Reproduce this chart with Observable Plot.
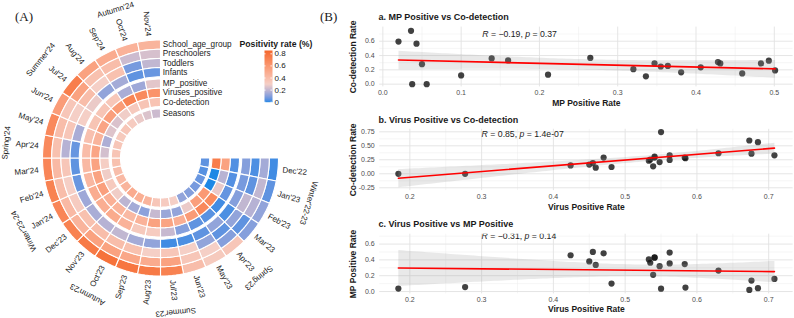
<!DOCTYPE html>
<html>
<head>
<meta charset="utf-8">
<script src="https://cdn.jsdelivr.net/npm/d3@7"></script>
<script src="https://cdn.jsdelivr.net/npm/@observablehq/plot@0.6"></script>
<style>
  body { margin: 0; background: #fff; }
  #wrap { position: relative; width: 794px; height: 318px; overflow: hidden; font-family: "Liberation Sans", Arial, sans-serif; }
  .tag { position: absolute; font-family: "Liberation Serif", "Times New Roman", serif; font-size: 13px; line-height: 13px; color: #1a1a1a; }
</style>
</head>
<body>
<div id="wrap">
  <div class="tag" style="left:15px;top:10px;">(A)</div>
  <div class="tag" style="left:320px;top:10px;">(B)</div>
</div>
<script>
// ---- monthly surveillance data, Dec 2022 – Nov 2024 ----
const months = ["Dec'22","Jan'23","Feb'23","Mar'23","Apr'23","May'23","Jun'23","Jul'23","Aug'23","Sep'23","Oct'23","Nov'23",
                "Dec'23","Jan'24","Feb'24","Mar'24","Apr'24","May'24","Jun'24","Jul'24","Aug'24","Sep'24","Oct'24","Nov'24"];
const seasons = ["Winter'22-23","Spring'23","Summer'23","Autumn'23","Winter'23-24","Spring'24","Summer'24","Autumn'24"];

// MP positivity by age group
const schoolAge    = [0.02,0.05,0.12,0.10,0.35,0.33,0.40,0.72,0.76,0.78,0.80,0.76,0.72,0.70,0.72,0.70,0.68,0.68,0.58,0.74,0.55,0.50,0.46,0.45];
const preschoolers = [0.15,0.20,0.18,0.05,0.10,0.30,0.35,0.55,0.50,0.52,0.55,0.55,0.45,0.42,0.40,0.42,0.38,0.40,0.35,0.55,0.38,0.40,0.22,0.24];
const toddlers     = [0.03,0.05,0.20,0.12,0.05,0.12,0.30,0.35,0.30,0.38,0.40,0.40,0.38,0.32,0.30,0.35,0.18,0.35,0.30,0.40,0.30,0.38,0.08,0.20];
const infants      = [0.10,0.08,0.10,0.03,0.12,0.05,0.03,0.02,0.12,0.15,0.20,0.18,0.16,0.14,0.06,0.05,0.06,0.16,0.30,0.28,0.12,0.15,0.05,0.06];
// overall rates
const mpPositive      = [0.036,0.0375,0.056,0.020,0.043,0.050,0.100,0.211,0.320,0.336,0.459,0.501,0.483,0.493,0.431,0.428,0.406,0.381,0.364,0.355,0.347,0.160,0.139,0.265];
const virusesPositive = [0.550,0.184,0.277,0.673,0.685,0.584,0.481,0.539,0.548,0.459,0.424,0.455,0.470,0.562,0.541,0.541,0.533,0.450,0.535,0.562,0.583,0.708,0.676,0.630];
const coDetection     = [0.745,0.000,0.000,0.595,0.565,0.280,0.122,0.133,0.210,0.110,0.150,0.192,0.290,0.328,0.290,0.308,0.235,0.165,0.255,0.247,0.290,0.331,0.360,0.367];
const seasonRate      = [0.05,0.04,0.06,0.08,0.10,0.12,0.30,0.32,0.35,0.45,0.48,0.50,0.45,0.42,0.40,0.38,0.36,0.35,0.33,0.35,0.32,0.28,0.25,0.22];

const trackNames = ["School_age_group","Preschoolers","Toddlers","Infants","MP_positive","Viruses_positive","Co-detection","Seasons"];
const trackValues = [schoolAge, preschoolers, toddlers, infants, mpPositive, virusesPositive, coDetection, seasonRate];

// correlation annotations
const statA = "R = \u22120.19, p = 0.37";
const statB = "R = 0.85, p = 1.4e-07";
const statC = "R = \u22120.31, p = 0.14";

// ---- shared styling ----
const FONT = "Liberation Sans, Arial, sans-serif";
const positivityColor = {type: "linear", domain: [0, 0.3, 0.855], range: ["#1e88e5", "#f5cfc6", "#f4662b"], interpolate: "lab"};
const wrap = document.getElementById("wrap");
function place(node, left, top) {
  node.style.position = "absolute";
  node.style.left = left + "px";
  node.style.top = top + "px";
  wrap.appendChild(node);
}

// ---- circular heatmap (270° sweep, clockwise from 3 o'clock) ----
const START = 90, STEP = 270 / months.length;
const trackRadii = {
  "School_age_group": [108.8, 118], "Preschoolers": [99.6, 108.8], "Toddlers": [90.4, 99.6], "Infants": [81.2, 90.4],
  "MP_positive": [69.8, 79], "Viruses_positive": [60.6, 69.8], "Co-detection": [51.4, 60.6], "Seasons": [40, 49.2]
};
const polar = (r, deg) => [r * Math.sin(deg * Math.PI / 180), -r * Math.cos(deg * Math.PI / 180)];

const cells = [];
trackNames.forEach((name, t) => {
  const [r0, r1] = trackRadii[name];
  trackValues[t].forEach((v, i) => {
    const a0 = START + i * STEP, a1 = a0 + STEP, id = name + "|" + i;
    for (let k = 0; k <= 6; k++) { const [x, y] = polar(r1, a0 + (a1 - a0) * k / 6); cells.push({id, x, y, value: v}); }
    for (let k = 6; k >= 0; k--) { const [x, y] = polar(r0, a0 + (a1 - a0) * k / 6); cells.push({id, x, y, value: v}); }
  });
});

const MONTH_R = 122.5, SEASON_R = 155;
const monthLabels = months.map((m, i) => {
  const deg = START + (i + 0.5) * STEP;
  const radial = deg - 90;
  const flip = radial > 90 && radial < 270;
  const [x, y] = polar(MONTH_R, deg);
  return {text: m, x, y, rotate: flip ? radial - 180 : radial, flip};
});
const seasonLabels = seasons.map((s, k) => {
  const deg = START + (3 * k + 1.5) * STEP;
  const [x, y] = polar(SEASON_R, deg);
  return {text: s, x, y, rotate: deg};
});
const trackLabels = trackNames.map(name => ({text: name, x: 2.3, y: -(trackRadii[name][0] + trackRadii[name][1]) / 2}));

const ring = Plot.plot({
  width: 340, height: 318,
  x: {domain: [-160, 180], range: [0, 340], axis: null},
  y: {domain: [-157.5, 160.5], range: [0, 318], axis: null},
  color: positivityColor,
  style: {fontFamily: FONT, background: "transparent", overflow: "visible"},
  marks: [
    Plot.line(cells, {x: "x", y: "y", z: "id", fill: "value", stroke: "white", strokeWidth: 1.1, curve: "linear-closed"}),
    Plot.text(monthLabels.filter(d => !d.flip), {x: "x", y: "y", text: "text", rotate: "rotate", textAnchor: "start", fontSize: 8, fill: "#1a1a1a"}),
    Plot.text(monthLabels.filter(d => d.flip), {x: "x", y: "y", text: "text", rotate: "rotate", textAnchor: "end", fontSize: 8, fill: "#1a1a1a"}),
    Plot.text(seasonLabels, {x: "x", y: "y", text: "text", rotate: "rotate", textAnchor: "middle", fontSize: 8, fill: "#1a1a1a"}),
    Plot.text(trackLabels, {x: "x", y: "y", text: "text", textAnchor: "start", fontSize: 8.2, fill: "#1a1a1a"})
  ]
});
place(ring, 0, 0);

// ---- scatter panels with linear fit and 95% band ----
const rows = months.map((m, i) => ({month: m, mp: mpPositive[i], virus: virusesPositive[i], co: coDetection[i]}));

function italicStat(svg) {
  svg.querySelectorAll("text").forEach(t => {
    const m = t.textContent.match(/^R = (.+), p = (.+)$/);
    if (!m) return;
    t.textContent = "";
    [["R", true], [" = " + m[1] + ", ", false], ["p", true], [" = " + m[2], false]].forEach(([s, it]) => {
      const ts = document.createElementNS("http://www.w3.org/2000/svg", "tspan");
      ts.textContent = s;
      if (it) ts.setAttribute("font-style", "italic");
      t.appendChild(ts);
    });
  });
}

function scatter(o) {
  const chart = Plot.plot({
    width: o.width, height: o.height,
    marginLeft: o.frame[0] - o.left, marginRight: o.left + o.width - o.frame[1],
    marginTop: o.frame[2] - o.top, marginBottom: o.top + o.height - o.frame[3],
    x: {domain: o.xDomain},
    y: {domain: o.yDomain},
    style: {fontFamily: FONT, background: "transparent", overflow: "visible"},
    marks: [
      Plot.gridX(o.xMinor, {stroke: "#ededed", strokeOpacity: 1, strokeWidth: 0.5}),
      Plot.gridY(o.yMinor, {stroke: "#ededed", strokeOpacity: 1, strokeWidth: 0.5}),
      Plot.gridX(o.xTicks, {stroke: "#e2e2e2", strokeOpacity: 1, strokeWidth: 0.9}),
      Plot.gridY(o.yTicks, {stroke: "#e2e2e2", strokeOpacity: 1, strokeWidth: 0.9}),
      Plot.axisX(o.xTicks, {tickSize: 0, tickPadding: 3, fontSize: 7, fill: "#4d4d4d", tickFormat: o.xFormat, label: null}),
      Plot.axisY(o.yTicks, {tickSize: 0, tickPadding: 5, fontSize: 7, fill: "#4d4d4d", tickFormat: o.yFormat, label: null}),
      Plot.dot(rows, {x: o.x, y: o.y, r: 3.1, fill: "#111", fillOpacity: 0.8}),
      Plot.linearRegressionY(rows, {x: o.x, y: o.y, stroke: "#ff0000", strokeWidth: 1.6, fill: "#999999", fillOpacity: 0.22}),
      Plot.text([o.stat], {x: () => o.statX, y: () => 0.7, text: d => d, textAnchor: "start", lineAnchor: "middle",
        fontSize: 8.7, fill: "#1a1a1a", clip: o.clipStat}),
      Plot.text([o.title], {frameAnchor: "top-left", text: d => d, dx: 378 - o.frame[0], dy: o.titleY - o.frame[2],
        textAnchor: "start", lineAnchor: "middle", fontWeight: "bold", fontSize: 9, fill: "#1a1a1a"}),
      Plot.text([o.xLabel], {frameAnchor: "bottom", text: d => d, dy: o.xLabelY - o.frame[3], textAnchor: "middle", lineAnchor: "middle",
        fontWeight: "bold", fontSize: 8.5, fill: "#1a1a1a"}),
      Plot.text([o.yLabel], {frameAnchor: "left", text: d => d, dx: 352.5 - o.frame[0], rotate: -90, textAnchor: "middle", lineAnchor: "middle",
        fontWeight: "bold", fontSize: 8.5, fill: "#1a1a1a"})
    ]
  });
  italicStat(chart);
  place(chart, o.left, o.top);
}

const f1 = d => d.toFixed(1), f2 = d => d.toFixed(2);
const virusTicks = [0.2, 0.3, 0.4, 0.5, 0.6, 0.7], virusMinor = [0.25, 0.35, 0.45, 0.55, 0.65];

scatter({
  left: 340, top: 0, width: 454, height: 112, frame: [379.2, 792.6, 26.6, 86.4],
  x: "mp", y: "co", xDomain: [-0.004, 0.524], yDomain: [-0.038, 0.797],
  xTicks: [0, 0.1, 0.2, 0.3, 0.4, 0.5], xMinor: [0.05, 0.15, 0.25, 0.35, 0.45],
  yTicks: [0, 0.2, 0.4, 0.6], yMinor: [0.1, 0.3, 0.5, 0.7], xFormat: f1, yFormat: f1,
  stat: statA, statX: 0.127, clipStat: false,
  title: "a. MP Positive vs Co-detection", titleY: 17, xLabel: "MP Positive Rate", xLabelY: 103, yLabel: "Co-detection Rate"
});
scatter({
  left: 340, top: 105, width: 454, height: 110, frame: [379.2, 792.6, 128.8, 190.1],
  x: "virus", y: "co", xDomain: [0.158, 0.734], yDomain: [-0.30, 0.795],
  xTicks: virusTicks, xMinor: virusMinor,
  yTicks: [-0.25, 0, 0.25, 0.5, 0.75], yMinor: [-0.125, 0.125, 0.375, 0.625], xFormat: f1, yFormat: f2,
  stat: statB, statX: 0.30, clipStat: false,
  title: "b. Virus Positive vs Co-detection", titleY: 120, xLabel: "Virus Positive Rate", xLabelY: 207, yLabel: "Co-detection Rate"
});
scatter({
  left: 340, top: 212, width: 454, height: 106, frame: [379.2, 792.6, 233.7, 293.4],
  x: "virus", y: "mp", xDomain: [0.158, 0.734], yDomain: [-0.03, 0.725],
  xTicks: virusTicks, xMinor: virusMinor,
  yTicks: [0, 0.2, 0.4, 0.6], yMinor: [0.1, 0.3, 0.5, 0.7], xFormat: f1, yFormat: f1,
  stat: statC, statX: 0.30, clipStat: true,
  title: "c. Virus Positive vs MP Positive", titleY: 224, xLabel: "Virus Positive Rate", xLabelY: 309, yLabel: "MP Positive Rate"
});

// ---- colour bar ----
const legendTicks = [0, 0.2, 0.4, 0.6, 0.8];
const legend = Plot.plot({
  width: 80, height: 72,
  marginLeft: 24, marginRight: 48, marginTop: 14, marginBottom: 6.3,
  x: {domain: [0, 1], axis: null},
  y: {domain: [0, 0.855]},
  color: positivityColor,
  style: {fontFamily: FONT, background: "transparent", overflow: "visible"},
  marks: [
    Plot.raster({x1: 0, y1: 0, x2: 1, y2: 0.855, width: 1, height: 120, fill: (x, y) => y, imageRendering: "auto"}),
    Plot.tickY(legendTicks, {y: d => d, stroke: "white", strokeWidth: 0.8, insetRight: 6.4}),
    Plot.tickY(legendTicks, {y: d => d, stroke: "white", strokeWidth: 0.8, insetLeft: 6.4}),
    Plot.axisY(legendTicks, {anchor: "right", tickSize: 0, tickPadding: 2, fontSize: 8, fill: "#1a1a1a",
      tickFormat: d => d === 0 ? "0" : d.toFixed(1), label: null}),
    Plot.text(["Positivity rate (%)"], {frameAnchor: "top-left", text: d => d, dx: -25, dy: -6.7, textAnchor: "start", lineAnchor: "middle",
      fontWeight: "bold", fontSize: 8.7, fill: "#1a1a1a"})
  ]
});
place(legend, 240, 36);
</script>
</body>
</html>
